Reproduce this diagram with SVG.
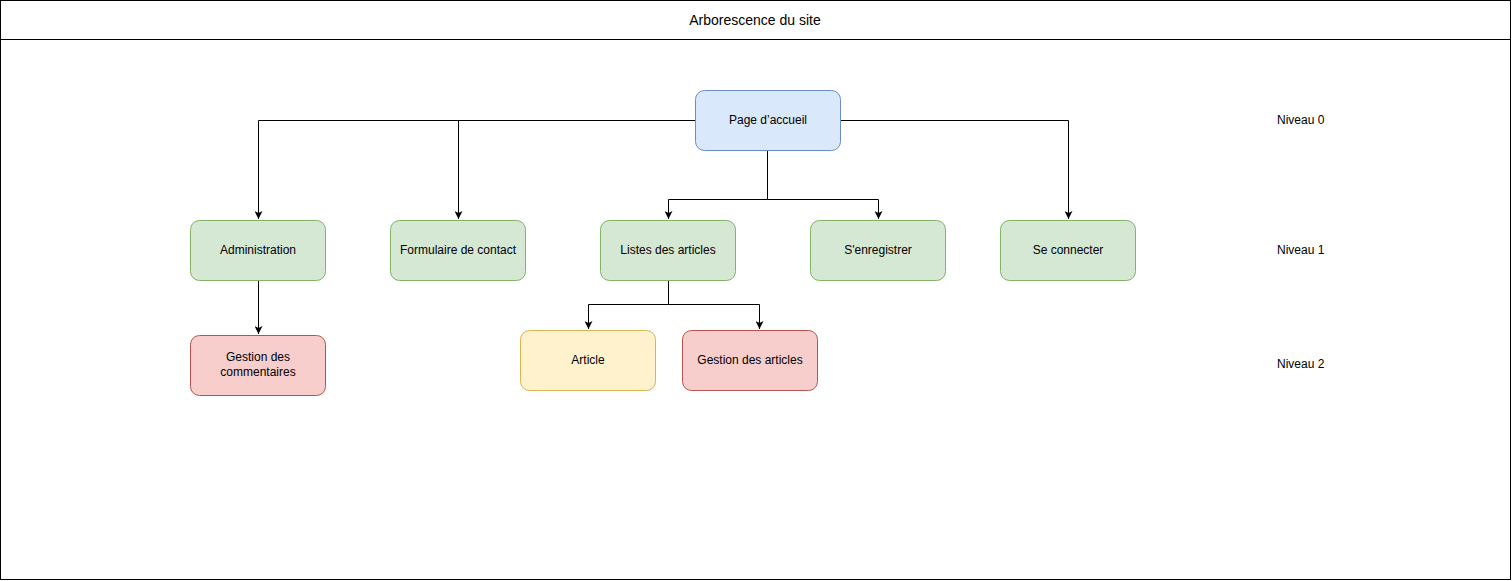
<svg xmlns="http://www.w3.org/2000/svg" width="1512" height="581" viewBox="0 0 1512 581">
<style>
text{font-family:"Liberation Sans",Arial,sans-serif;font-size:12px;fill:#000;text-anchor:middle;dominant-baseline:central}
.title{font-size:14px}
.lvl{text-anchor:start}
.n{stroke-width:1}
.blue{fill:#dae8fc;stroke:#6c8ebf}
.green{fill:#d5e8d4;stroke:#82b366}
.yellow{fill:#fff2cc;stroke:#d6b656}
.red{fill:#f8cecc;stroke:#b85450}
.c{fill:none;stroke:#000;stroke-width:1;marker-end:url(#arr)}
</style>
<defs>
<marker id="arr" viewBox="0 0 10 10" refX="10" refY="5" markerWidth="8" markerHeight="8" markerUnits="userSpaceOnUse" orient="auto">
<path d="M0,0 L10,5 L0,10 L2.5,5 Z" fill="#000"/>
</marker>
</defs>
<rect x="0" y="0" width="1512" height="581" fill="#fff"/>
<g id="frame">
<rect x="0.5" y="0.5" width="1510" height="579" fill="none" stroke="#000"/>
<line x1="0.5" y1="39.5" x2="1510.5" y2="39.5" stroke="#000"/>
<text class="title" x="755" y="19.5">Arborescence du site</text>
</g>
<g id="levels">
<text class="lvl" x="1277" y="119.5">Niveau 0</text>
<text class="lvl" x="1277" y="249.5">Niveau 1</text>
<text class="lvl" x="1277" y="363.5">Niveau 2</text>
</g>
<g id="connectors">
<path class="c" d="M695,120.5 H258.5 V219"/>
<path class="c" d="M695,120.5 H458.5 V219"/>
<path class="c" d="M840,120.5 H1068.5 V219"/>
<path class="c" d="M767.5,150 V199.5 H668.5 V219"/>
<path class="c" d="M767.5,199.5 H878.5 V219"/>
<path class="c" d="M258.5,280 V334"/>
<path class="c" d="M668.5,280 V304.5 H588.5 V329"/>
<path class="c" d="M668.5,304.5 H759.5 V329"/>
</g>
<g id="node-accueil"><rect class="n blue" x="695.5" y="90.5" width="145" height="60" rx="9"/><text x="768" y="119.5">Page d’accueil</text></g>
<g id="node-admin"><rect class="n green" x="190.5" y="220.5" width="135" height="60" rx="9"/><text x="258" y="249.5">Administration</text></g>
<g id="node-contact"><rect class="n green" x="390.5" y="220.5" width="135" height="60" rx="9"/><text x="458" y="249.5">Formulaire de contact</text></g>
<g id="node-listes"><rect class="n green" x="600.5" y="220.5" width="135" height="60" rx="9"/><text x="668" y="249.5">Listes des articles</text></g>
<g id="node-enregistrer"><rect class="n green" x="810.5" y="220.5" width="135" height="60" rx="9"/><text x="878" y="249.5">S'enregistrer</text></g>
<g id="node-connecter"><rect class="n green" x="1000.5" y="220.5" width="135" height="60" rx="9"/><text x="1068" y="249.5">Se connecter</text></g>
<g id="node-commentaires"><rect class="n red" x="190.5" y="335.5" width="135" height="60" rx="9"/><text x="258" y="357">Gestion des</text><text x="258" y="372">commentaires</text></g>
<g id="node-article"><rect class="n yellow" x="520.5" y="330.5" width="135" height="60" rx="9"/><text x="588" y="359.5">Article</text></g>
<g id="node-gestion-articles"><rect class="n red" x="682.5" y="330.5" width="135" height="60" rx="9"/><text x="750" y="359.5">Gestion des articles</text></g>
</svg>
